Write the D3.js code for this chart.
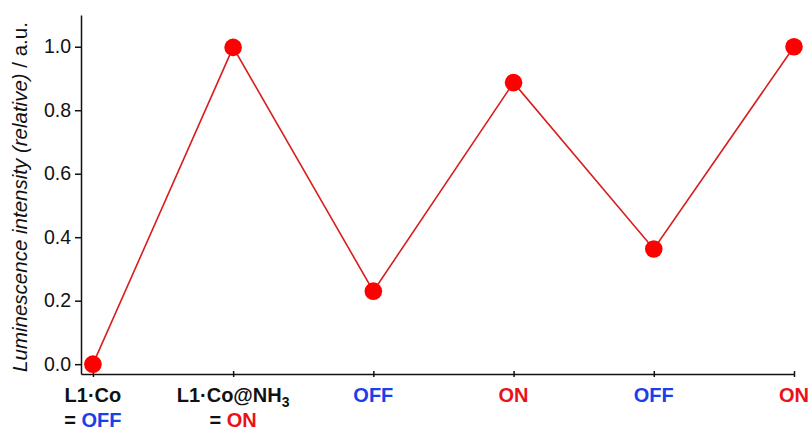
<!DOCTYPE html>
<html>
<head>
<meta charset="utf-8">
<script src="https://cdn.jsdelivr.net/npm/d3@7"></script>
<style>
  html, body { margin: 0; padding: 0; background: #fff; }
  svg { display: block; font-family: "Liberation Sans", Arial, Helvetica, sans-serif; }
  .axis path, .axis line { stroke: #111; stroke-width: 1.5; }
  .axis text { fill: #111; font-size: 19.5px; font-family: "Liberation Sans", Arial, Helvetica, sans-serif; }
</style>
</head>
<body>
<svg id="chart" width="811" height="432"></svg>
<script>
// measured intensities, one per step
var states = ["OFF", "ON", "OFF", "ON", "OFF", "ON"];
var values = [0, 0.998, 0.23, 0.887, 0.363, 1.0];
// first two steps carry a compound name above the state
var names = ["L1·Co", "L1·Co@NH", "", "", "", ""];
var nameSubs = ["", "3", "", "", "", ""];
var yTicks = [0, 0.2, 0.4, 0.6, 0.8, 1.0];

var stateColor = { OFF: "#1a40ea", ON: "#ea1218" };

var svg = d3.select("#chart");

var x = d3.scaleLinear().domain([-0.085, 5]).range([81, 794]);
var y = d3.scaleLinear().domain([-0.031, 1.1]).range([374, 15]);

// x axis, small ticks crossing the line
var xAxis = svg.append("g")
  .attr("class", "axis")
  .attr("transform", "translate(0," + y(-0.031) + ")")
  .call(d3.axisBottom(x).tickValues(d3.range(values.length)).tickFormat("").tickSizeInner(3).tickSizeOuter(0));
xAxis.selectAll(".tick line").attr("y1", -3);

// y axis
svg.append("g")
  .attr("class", "axis")
  .attr("transform", "translate(" + x(-0.085) + ",0)")
  .call(d3.axisLeft(y).tickValues(yTicks).tickFormat(d3.format(".1f")).tickSizeInner(6).tickSizeOuter(0).tickPadding(4));

// y title
var title = svg.append("text")
  .attr("transform", "translate(27," + 197 + ") rotate(-90)")
  .attr("text-anchor", "middle")
  .style("font-size", "20.5px")
  .attr("fill", "#111");
title.append("tspan").style("font-style", "italic").text("Luminescence intensity (relative)");
title.append("tspan").text(" / a.u.");

// category labels
svg.append("g").selectAll("g.cat")
  .data(states)
  .enter()
  .append("g")
  .attr("class", "cat")
  .attr("transform", function(d, i) { return "translate(" + x(i) + ",0)"; })
  .each(function(d, i) {
    var g = d3.select(this);
    if (names[i]) {
      var t1 = g.append("text")
        .attr("y", 402)
        .attr("text-anchor", "middle")
        .style("font-size", "20px")
        .style("font-weight", "bold")
        .attr("fill", "#111");
      t1.append("tspan").text(names[i]);
      if (nameSubs[i]) {
        t1.append("tspan").attr("dy", 5).style("font-size", "14px").text(nameSubs[i]);
      }
      var t2 = g.append("text")
        .attr("y", 427)
        .attr("text-anchor", "middle")
        .style("font-size", "20px")
        .style("font-weight", "bold")
        .attr("fill", "#111");
      t2.append("tspan").text("= ");
      t2.append("tspan").attr("fill", stateColor[d]).text(d);
    } else {
      g.append("text")
        .attr("y", 402)
        .attr("text-anchor", "middle")
        .style("font-size", "20px")
        .style("font-weight", "bold")
        .attr("fill", stateColor[d])
        .text(d);
    }
  });

// line and markers
var line = d3.line()
  .x(function(d, i) { return x(i); })
  .y(function(d) { return y(d); });

svg.append("path")
  .datum(values)
  .attr("d", line)
  .attr("fill", "none")
  .attr("stroke", "#d81e1e")
  .attr("stroke-width", 1.6);

svg.selectAll("circle.pt")
  .data(values)
  .enter()
  .append("circle")
  .attr("class", "pt")
  .attr("cx", function(d, i) { return x(i); })
  .attr("cy", function(d) { return y(d); })
  .attr("r", 8.8)
  .attr("fill", "#ff0000");
</script>
</body>
</html>
